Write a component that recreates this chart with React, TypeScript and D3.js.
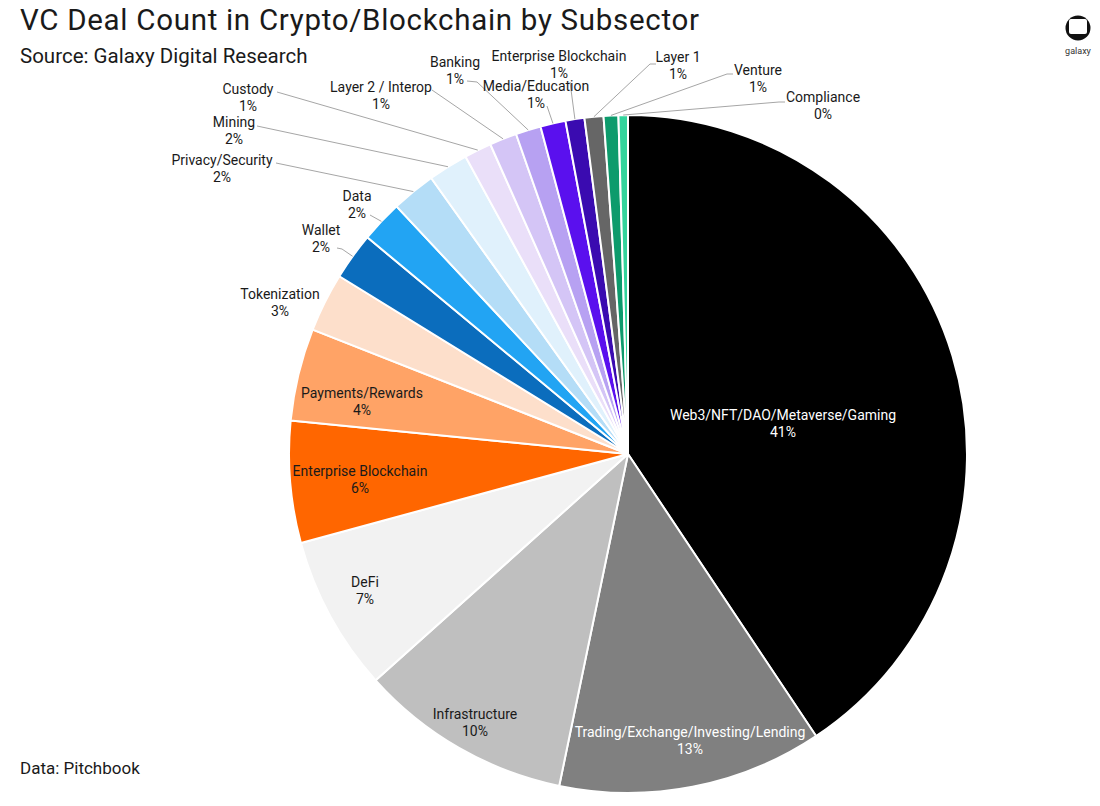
import React from 'react'
import * as d3 from 'd3'

const subsectors = [
  'Web3/NFT/DAO/Metaverse/Gaming',
  'Trading/Exchange/Investing/Lending',
  'Infrastructure',
  'DeFi',
  'Enterprise Blockchain',
  'Payments/Rewards',
  'Tokenization',
  'Wallet',
  'Data',
  'Privacy/Security',
  'Mining',
  'Custody',
  'Layer 2 / Interop',
  'Banking',
  'Media/Education',
  'Enterprise Blockchain',
  'Layer 1',
  'Venture',
  'Compliance'
]

// share of deal count, %
const shares = [40.6, 12.6, 10.1, 7.4, 5.8, 4.4, 2.8, 2.25, 2.0, 2.1, 1.9, 1.3, 1.3, 1.2, 1.2, 0.9, 0.9, 0.7, 0.45]

const colors = [
  '#000000', '#808080', '#bfbfbf', '#f2f2f2', '#ff6600', '#ffa366', '#fddfcb',
  '#0b6dbd', '#22a4f3', '#b4ddf7', '#e0f1fc', '#eadff9', '#d4c5f6', '#b7a1f2',
  '#5a10ee', '#3a0bb0', '#666666', '#0d9b6c', '#34d49c'
]

// where each label sits, and where its leader line starts (null = no leader)
const labelSpots: [number, number][] = [
  [783, 415], [690, 732], [475, 714], [365, 582], [360, 471], [362, 393], [280, 294],
  [321, 230], [357, 196], [222, 160], [234, 122], [248, 89], [381, 87], [455, 62],
  [536, 86], [559, 56], [678, 57], [758, 70], [823, 97]
]
const leaderFrom: ([number, number][] | null)[] = [
  null, null, null, null, null, null, null,
  [[337, 248], [342, 249]],
  [[370, 215]],
  [[276, 163]],
  [[257, 126]],
  [[277, 92]],
  [[432, 90]],
  [[467, 81], [477, 82]],
  [[547, 106]],
  [[570, 82]],
  [[656, 64], [650, 64]],
  [[733, 74], [727, 74]],
  [[785, 102], [779, 102]]
]

const font = 'Roboto, "Noto Sans", sans-serif'
const ink = '#1a1a1a'

export default function App() {
  const cx = 628
  const cy = 454
  const r = 339

  const total = d3.sum(shares)
  const pie = d3.pie<number>().sort(null).value((d) => d)
  const arcs = pie(shares)
  const arc = d3.arc<d3.PieArcDatum<number>>().innerRadius(0).outerRadius(r)
  const line = d3.line()

  return (
    <svg width={1100} height={806} style={{ position: 'absolute', left: 0, top: 0, background: '#fff' }}>
      <text x={20} y={30} fontFamily={font} fontSize={29.5} letterSpacing={0.7} fill={ink}>VC Deal Count in Crypto/Blockchain by Subsector</text>
      <text x={20} y={63} fontFamily={font} fontSize={20.5} fill={ink}>Source: Galaxy Digital Research</text>
      <text x={20} y={774} fontFamily={font} fontSize={17} fill={ink}>Data: Pitchbook</text>

      <g>
        <circle cx={1078} cy={28} r={12.5} fill="#111" />
        <rect x={1069} y={19} width={18} height={15} rx={2} fill="#fff" />
        <text x={1078} y={54} textAnchor="middle" fontFamily={font} fontSize={9} fill="#333">galaxy</text>
      </g>

      <g transform={`translate(${cx},${cy})`}>
        {arcs.map((a, i) => (
          <path key={i} d={arc(a) || ''} fill={colors[i]} stroke="#fff" strokeWidth={2} strokeLinejoin="round" />
        ))}
      </g>

      {arcs.map((a, i) => {
        const from = leaderFrom[i]
        if (!from) return null
        const mid = (a.startAngle + a.endAngle) / 2
        const end: [number, number] = [cx + r * Math.sin(mid), cy - r * Math.cos(mid)]
        return <path key={i} d={line([...from, end]) || ''} fill="none" stroke="#a6a6a6" strokeWidth={1} />
      })}

      {arcs.map((a, i) => {
        const [x, y] = labelSpots[i]
        const dark = i < 2
        const pct = Math.round((shares[i] / total) * 100) + '%'
        return (
          <text key={i} x={x} y={y} textAnchor="middle" fontFamily={font} fontSize={14}
            fill={dark ? '#fff' : ink}>
            <tspan x={x} dy="0.35em">{subsectors[i]}</tspan>
            <tspan x={x} dy="1.2em">{pct}</tspan>
          </text>
        )
      })}
    </svg>
  )
}
